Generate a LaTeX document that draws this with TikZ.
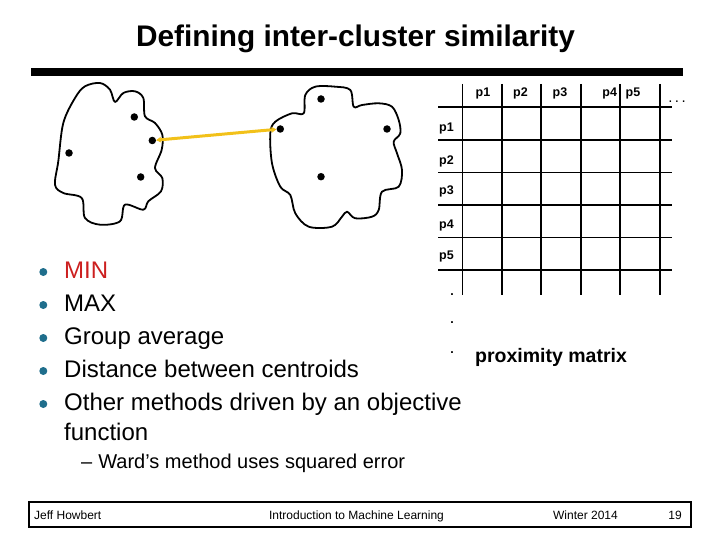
\documentclass[tikz,border=0pt]{standalone}
\usepackage{fontspec}
\setmainfont{Liberation Sans}
\usetikzlibrary{arrows.meta}
\definecolor{bulletblue}{HTML}{1F6E8C}
\definecolor{minred}{HTML}{CC1F1F}
\definecolor{linkyellow}{HTML}{F2C11A}
\begin{document}
\begin{tikzpicture}[x=1pt,y=-1pt,
  pt/.style={circle,fill=black,inner sep=0pt,minimum size=7.5pt},
  cloud/.style={line width=1.8pt,line join=round},
  grid/.style={line width=1.6pt},
  lab/.style={font=\bfseries\fontsize{12.5}{14}\selectfont,inner sep=0pt},
  blt/.style={circle,fill=bulletblue,inner sep=0pt,minimum size=8pt},
  btxt/.style={anchor=base west,inner sep=0pt,font=\fontsize{24}{28}\selectfont},
  foot/.style={font=\fontsize{12}{14}\selectfont,inner sep=0pt,anchor=base}]
\useasboundingbox (0,0) rectangle (720,540);

% title and bar
\node[anchor=base,inner sep=0pt,font=\bfseries\fontsize{29.8}{34}\selectfont] (title) at (355.5,47) {Defining inter-cluster similarity};
\fill (31,68) rectangle (683,76);

% left cloud
\draw[cloud] plot[smooth cycle,tension=0.55] coordinates {
 (58.3,161.3) (63.3,123) (75,98) (85,86.3) (100,83) (110,89.7) (115,102)
 (123.3,93) (135,91.3) (143.3,98) (145,116.3) (155,123) (162.3,134.7)
 (161.7,149.7) (155,168) (162.3,178) (161,191.3) (148.3,201.3) (143.3,209.7)
 (125,204.7) (120,221.3) (100,224.7) (85,218) (81.7,198) (63.3,193) (55,184.7)};
% right cloud
\draw[cloud] plot[smooth cycle,tension=0.55] coordinates {
 (303.7,113.3) (305.3,95) (315.3,86.7) (335.3,86.7) (350.3,90) (353.7,106.7)
 (362,105) (378.7,103.3) (392,106.7) (398.7,120) (400.3,133.3) (393.7,141.7)
 (397,153.3) (402,170) (398.7,186.7) (382,191.7) (378.7,210) (372,216.7)
 (355.3,218.3) (347,211.7) (342,216.7) (332,226.7) (308.7,226.7) (295.3,213.3)
 (290.3,195) (280.3,186.7) (272,163.3) (270.3,133.3) (275.3,121.7) (292,113.3)};

% points
\node[pt] (a1) at (134.3,117) {};
\node[pt] (a2) at (152.3,140.5) {};
\node[pt] (a3) at (69,153) {};
\node[pt] (a4) at (140.7,177) {};
\node[pt] (b1) at (321,99) {};
\node[pt] (b2) at (280.3,129) {};
\node[pt] (b3) at (387,129) {};
\node[pt] (b4) at (321,176.7) {};

\draw[linkyellow,line width=3pt,{Stealth[length=5pt,width=6pt]}-{Stealth[length=5pt,width=6pt]}]
  (a2) -- (b2);

% proximity matrix grid
\foreach \x in {462.3,502,541,581,620,660} \draw[grid] (\x,84) -- (\x,295);
\foreach \y in {107.3,140,172.7,205,237.3,270} \draw[grid] (438,\y) -- (671.7,\y);

% column labels
\node[lab] (c1) at (483,93.3) {p1};
\node[lab] (c2) at (520.5,93.3) {p2};
\node[lab] (c3) at (560,93.3) {p3};
\node[lab] (c4) at (609.7,93.3) {p4};
\node[lab] (c5) at (633,93.3) {p5};
\node[anchor=base,inner sep=0pt,font=\fontsize{15}{16}\selectfont] (cd) at (677,103) {.\,.\,.};
% row labels
\node[lab,anchor=west] (r1) at (439,128.3) {p1};
\node[lab,anchor=west] (r2) at (439,161.7) {p2};
\node[lab,anchor=west] (r3) at (439,191.7) {p3};
\node[lab,anchor=west] (r4) at (439,225) {p4};
\node[lab,anchor=west] (r5) at (439,256.7) {p5};
\node[lab,anchor=base] (d1) at (452,295) {.};
\node[lab,anchor=base] (d2) at (452,323.5) {.};
\node[lab,anchor=base] (d3) at (452,353.5) {.};
\node[anchor=west,inner sep=0pt,font=\bfseries\fontsize{19.5}{22}\selectfont] (pm) at (475,357) {proximity matrix};

% bullets
\node[blt] (k1) at (43.3,272) {};
\node[blt] (k2) at (43.3,305) {};
\node[blt] (k3) at (43.3,338) {};
\node[blt] (k4) at (43.3,371) {};
\node[blt] (k5) at (43.3,404) {};
\node[btxt,text=minred] (t1) at (64,278.5) {MIN};
\node[btxt] (t2) at (64,311.5) {MAX};
\node[btxt] (t3) at (64,344.5) {Group average};
\node[btxt] (t4) at (64,377.5) {Distance between centroids};
\node[btxt] (t5) at (64,410.5) {Other methods driven by an objective};
\node[btxt] (t6) at (64,440) {function};
\node[anchor=base west,inner sep=0pt,font=\fontsize{20}{24}\selectfont] (t7) at (81,468) {–\hspace{6pt}Ward’s method uses squared error};

% footer
\draw[line width=2pt] (29.3,502.3) rectangle (690.7,526.7);
\node[foot,anchor=base west] (f1) at (34,519.3) {Jeff Howbert};
\node[foot] (f2) at (356.5,519.3) {Introduction to Machine Learning};
\node[foot] (f3) at (585.5,519.3) {Winter 2014};
\node[foot,anchor=base east] (f4) at (682,519.3) {19};
\end{tikzpicture}
\end{document}
